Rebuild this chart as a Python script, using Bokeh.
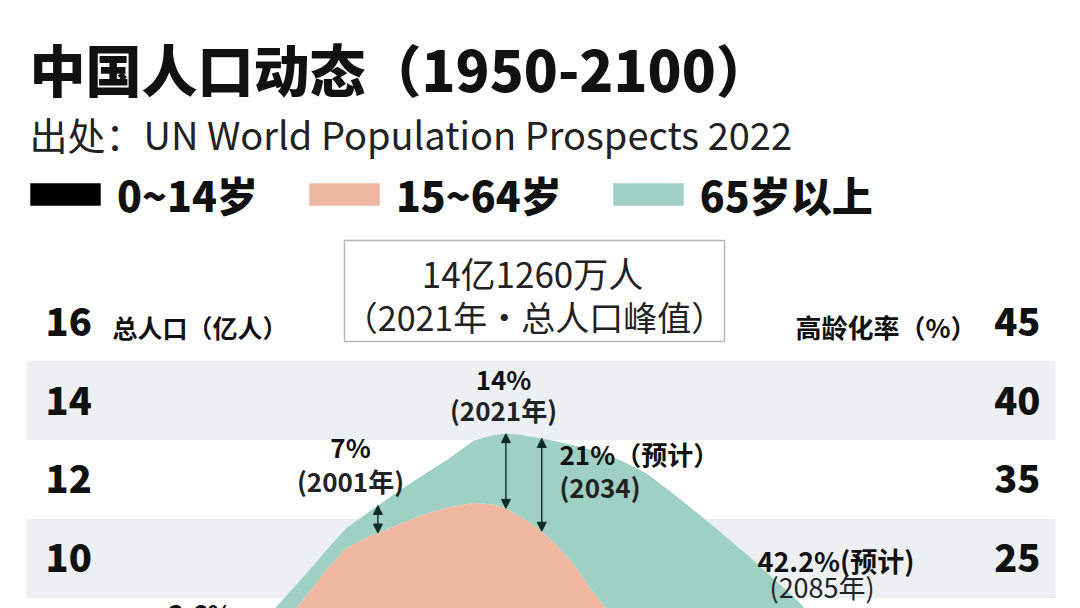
import numpy as np
from bokeh.plotting import figure
from bokeh.models import (ColumnDataSource, Range1d, BoxAnnotation, Label, LabelSet,
                          Arrow, NormalHead)
from bokeh.core.properties import value
from bokeh.embed import file_html
from bokeh.resources import INLINE

# ---------------- data (亿人) ----------------
years = [1980, 1985, 1990, 1993, 1996, 2000, 2004, 2008, 2012, 2016, 2019, 2021, 2023,
         2026, 2029, 2032, 2035, 2039, 2043, 2047, 2051, 2055, 2059, 2063, 2067, 2071, 2075]
age_0_14 = [3.40, 3.10, 3.10, 3.20, 3.20, 2.90, 2.70, 2.50, 2.40, 2.40, 2.50, 2.50, 2.40,
            2.20, 2.00, 1.90, 1.80, 1.70, 1.60, 1.50, 1.50, 1.40, 1.40, 1.30, 1.30, 1.20, 1.20]
age_15_64 = [3.90, 5.00, 5.99, 6.52, 7.06, 7.68, 8.14, 8.61, 8.90, 9.01, 8.87, 8.77, 8.68,
             8.58, 8.33, 7.87, 7.26, 6.60, 6.10, 5.70, 5.30, 5.10, 4.80, 4.60, 4.30, 4.10, 3.80]
age_65_plus = [0.52, 0.65, 0.56, 0.50, 0.50, 0.65, 0.84, 1.00, 1.22, 1.58, 1.75, 1.89, 2.06,
               2.28, 2.63, 3.08, 3.66, 4.18, 4.45, 4.46, 4.34, 4.10, 3.85, 3.56, 3.26, 2.80, 2.42]

series_names = ["0~14岁", "15~64岁", "65岁以上"]
left_ticks = [16, 14, 12, 10]
right_tick_labels = ["45", "40", "35", "25"]
arrow_years = [2001, 2021, 2026.6]

W, H = 1080, 608
FONT = "Noto Sans CJK SC"
HEAVY = "Noto Sans CJK SC Black, Noto Sans CJK SC"
COL_KIDS, COL_WORK, COL_OLD = "#000000", "#f0b7a0", "#9ed0c3"
BAND = "#edf0f3"
INK = "#111111"

p = figure(width=W, height=H, output_backend="svg", toolbar_location=None,
           x_range=Range1d(1942.03, 2110.78), y_range=Range1d(8.734, 24.127),
           x_axis_location=None, y_axis_location=None, min_border=0)
p.outline_line_color = None
p.grid.visible = False
p.background_fill_color = "white"

# horizontal bands centred on every other tick
for t in left_ticks[1::2]:
    p.add_layout(BoxAnnotation(bottom=t - 1, top=t + 1, left=26, right=1055,
                               left_units="screen", right_units="screen",
                               fill_color=BAND, fill_alpha=1, line_alpha=0, level="underlay"))

src = ColumnDataSource(dict(year=years, kids=age_0_14, work=age_15_64, old=age_65_plus))
p.varea_stack(stackers=["kids", "work", "old"], x="year", source=src,
              color=[COL_KIDS, COL_WORK, COL_OLD], legend_label=series_names)

leg = p.legend[0]
leg.orientation = "horizontal"
leg.location = (21, 384)
leg.glyph_width = 88
leg.glyph_height = 28
leg.label_standoff = 8
leg.spacing = 42
leg.padding = 0
leg.margin = 0
leg.border_line_alpha = 0
leg.background_fill_alpha = 0
leg.label_text_font = HEAVY
leg.label_text_font_size = "41px"
leg.label_text_font_style = "bold"
leg.label_text_color = INK

# arrows between the 15~64 top and the total
total = np.array(age_0_14) + np.array(age_15_64) + np.array(age_65_plus)
work_top = np.array(age_0_14) + np.array(age_15_64)
for yr in arrow_years:
    y0 = float(np.interp(yr, years, work_top))
    y1 = float(np.interp(yr, years, total))
    p.add_layout(Arrow(x_start=yr, y_start=y0, x_end=yr, y_end=y1,
                       line_color="#0f2a24", line_width=1.4,
                       start=NormalHead(size=9, fill_color="#0f2a24", line_color="#0f2a24"),
                       end=NormalHead(size=9, fill_color="#0f2a24", line_color="#0f2a24")))

# tick labels
p.add_layout(LabelSet(x=45, y="y", text="t", x_units="screen",
                      source=ColumnDataSource(dict(y=left_ticks, t=[str(v) for v in left_ticks])),
                      text_font=value(HEAVY), text_font_size="38px", text_font_style="bold",
                      text_baseline="middle", text_align="left", text_color=INK))
p.add_layout(LabelSet(x=1040, y="y", text="t", x_units="screen",
                      source=ColumnDataSource(dict(y=left_ticks, t=right_tick_labels)),
                      text_font=value(HEAVY), text_font_size="38px", text_font_style="bold",
                      text_baseline="middle", text_align="right", text_color=INK))


def L(text, px, py, size, bold=True, align="left", color=INK, font=FONT):
    p.add_layout(Label(x=px, y=H - py, x_units="screen", y_units="screen",
                       text=text, text_font=font, text_font_size=f"{size}px",
                       text_font_style="bold" if bold else "normal",
                       text_align=align, text_baseline="middle", text_color=color))


L("中国人口动态（1950-2100）", 29, 67, 56, font=HEAVY)
L("出处：UN World Population Prospects 2022", 29, 133, 38, bold=False, color="#222222")

# peak box
p.add_layout(BoxAnnotation(left=344, right=724, top=H - 240, bottom=H - 341,
                           left_units="screen", right_units="screen",
                           top_units="screen", bottom_units="screen",
                           fill_alpha=0, line_color="#111111", line_width=1.5))
L("14亿1260万人", 532, 272, 35, bold=False, align="center", color="#222222")
L("（2021年·总人口峰值）", 534, 316, 34, bold=False, align="center", color="#222222")

L("总人口（亿人）", 112, 326, 25)
L("高龄化率（%）", 976, 326, 26, align="right")

L("14%", 503, 378, 26, align="center")
L("(2021年)", 503, 409, 26, align="center", color="#222222")
L("7%", 350, 446, 26, align="center")
L("(2001年)", 350, 480, 26, align="center", color="#222222")
L("21%（预计）", 559, 453, 26)
L("(2034)", 559, 486, 26, color="#222222")
L("42.2%(预计)", 757, 560, 27)
L("(2085年)", 769, 586, 27, bold=False, color="#222222")
L("3.6%", 200, 612, 26, align="center")

open("out.html", "w").write(file_html(p, INLINE))
